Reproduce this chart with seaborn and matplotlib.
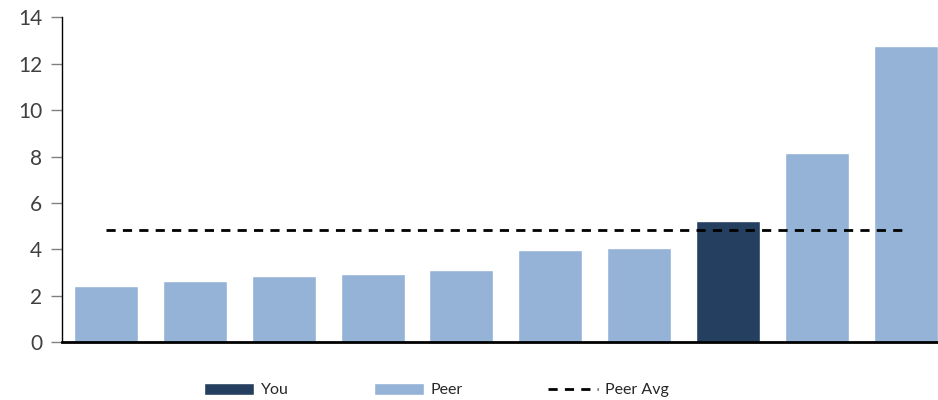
import matplotlib
matplotlib.use("Agg")
import matplotlib.pyplot as plt
import seaborn as sns
import pandas as pd
from matplotlib.patches import Patch
from matplotlib.lines import Line2D

# data
companies = ["P1", "P2", "P3", "P4", "P5", "P6", "P7", "You", "P8", "P9"]
values = [2.44, 2.63, 2.85, 2.96, 3.11, 3.99, 4.05, 5.23, 8.16, 12.78]
groups = ["Peer", "Peer", "Peer", "Peer", "Peer", "Peer", "Peer", "You", "Peer", "Peer"]
peer_avg = 4.82

colors = {"You": "#253F60", "Peer": "#95B3D7"}

df = pd.DataFrame({"company": companies, "value": values, "group": groups})

sns.set_style("white")
plt.rcParams["font.family"] = ["Lato", "DejaVu Sans"]

fig = plt.figure(figsize=(9.38, 4.0), dpi=100)
ax = fig.add_axes([0.0658, 0.144, 0.947, 0.813])

sns.barplot(data=df, x="company", y="value", hue="group", palette=colors,
            dodge=False, width=0.72, saturation=1, legend=False, ax=ax)

ax.plot([0, 9], [peer_avg, peer_avg], color="black", linestyle=(0, (3.3, 2.6)), linewidth=2)

ax.set_xlim(-0.5, 9.5)
ax.set_ylim(0, 14)
ax.set_yticks(range(0, 15, 2))
ax.set_xticks([])
ax.set_xlabel("")
ax.set_ylabel("")
ax.tick_params(axis="y", direction="out", length=8, width=1, color="#808080",
               labelsize=15, labelcolor="#404040", pad=6, left=True)

for s in ["top", "right"]:
    ax.spines[s].set_visible(False)
ax.spines["left"].set_color("black")
ax.spines["left"].set_linewidth(1)
ax.spines["bottom"].set_color("black")
ax.spines["bottom"].set_linewidth(2)

handles = [
    Patch(facecolor=colors["You"], label="You"),
    Patch(facecolor=colors["Peer"], label="Peer"),
    Line2D([0], [0], color="black", linestyle=(0, (3.3, 2.6)), linewidth=2, label="Peer Avg"),
]
fig.legend(handles=handles, loc="center left", bbox_to_anchor=(0.2021, 0.025), ncol=3,
           frameon=False, fontsize=11.5, handlelength=3.13, handleheight=0.85,
           columnspacing=5.3, handletextpad=0.45, borderpad=0.4)

fig.savefig("out.png", dpi=100)
